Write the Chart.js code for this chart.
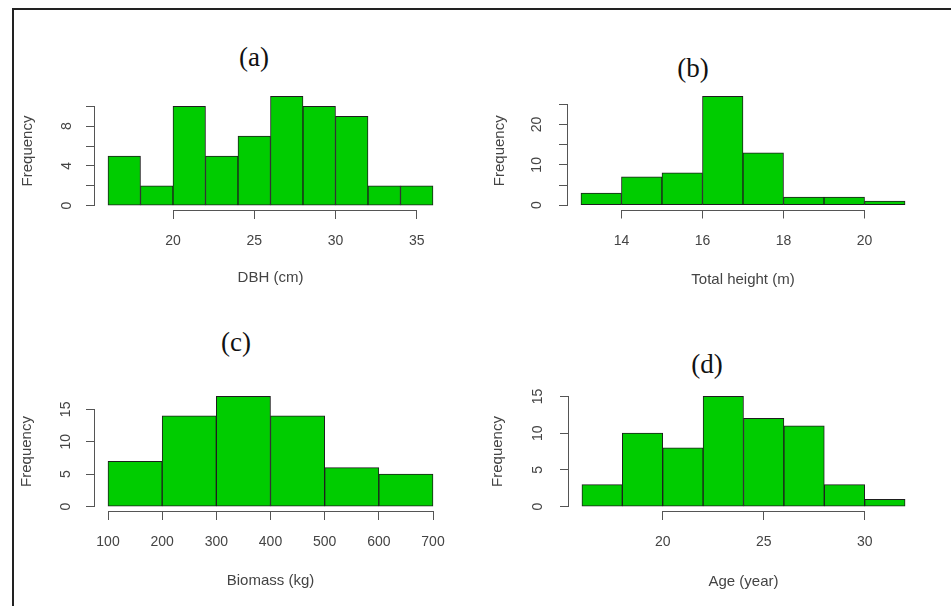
<!DOCTYPE html>
<html>
<head>
<meta charset="utf-8">
<title>Histograms</title>
<script src="https://cdn.jsdelivr.net/npm/chart.js@4.4.1/dist/chart.umd.min.js"></script>
<style>
  html, body { margin: 0; padding: 0; background: #fff; }
  #page { position: relative; width: 951px; height: 606px; overflow: hidden; }
  #frame { position: absolute; left: 12px; top: 8px; right: -4px; bottom: -4px;
           border-left: 2px solid #222; border-top: 2px solid #222; }
  canvas { position: absolute; }
  .tag { position: absolute; transform: translate(-50%, -50%);
         font-family: 'Liberation Serif', 'Times New Roman', serif; font-size: 27px; color: #111; }
</style>
</head>
<body>
<div id="page">
  <div id="frame"></div>
  <div class="tag" style="left:254px; top:57px">(a)</div>
  <div class="tag" style="left:693px; top:68px">(b)</div>
  <div class="tag" style="left:236px; top:342px">(c)</div>
  <div class="tag" style="left:707px; top:364px">(d)</div>
  <canvas id="chartA"></canvas>
  <canvas id="chartB"></canvas>
  <canvas id="chartC"></canvas>
  <canvas id="chartD"></canvas>
</div>
<script>
'use strict'

// (a) DBH
var dbhEdges = [16, 18, 20, 22, 24, 26, 28, 30, 32, 34, 36];
var dbhCounts = [5, 2, 10, 5, 7, 11, 10, 9, 2, 2];
var dbhTicks = [20, 25, 30, 35];
var dbhFreqTicks = [0, 2, 4, 6, 8, 10];
var dbhFreqLabels = [0, 4, 8];

// (b) total height
var heightEdges = [13, 14, 15, 16, 17, 18, 19, 20, 21];
var heightCounts = [3, 7, 8, 27, 13, 2, 2, 1];
var heightTicks = [14, 16, 18, 20];
var heightFreqTicks = [0, 5, 10, 15, 20, 25];
var heightFreqLabels = [0, 10, 20];

// (c) biomass
var biomassEdges = [100, 200, 300, 400, 500, 600, 700];
var biomassCounts = [7, 14, 17, 14, 6, 5];
var biomassTicks = [100, 200, 300, 400, 500, 600, 700];
var biomassFreqTicks = [0, 5, 10, 15];
var biomassFreqLabels = [0, 5, 10, 15];

// (d) age
var ageEdges = [16, 18, 20, 22, 24, 26, 28, 30, 32];
var ageCounts = [3, 10, 8, 15, 12, 11, 3, 1];
var ageTicks = [20, 25, 30];
var ageFreqTicks = [0, 5, 10, 15];
var ageFreqLabels = [0, 5, 10, 15];

var axisColor = '#555';
var textColor = '#444';
var tickFont = { family: "'Liberation Sans', Arial, sans-serif", size: 14 };
var titleFont = { family: "'Liberation Sans', Arial, sans-serif", size: 15 };

// R style axes: the line only runs from first to last tick
var axisLines = {
  id: 'axisLines',
  afterDraw: function (chart) {
    var ctx = chart.ctx, area = chart.chartArea;
    var x = chart.scales.x, y = chart.scales.y;
    var xb = Math.round(area.bottom) + 0.5, yl = Math.round(area.left) - 0.5;
    ctx.save();
    ctx.strokeStyle = axisColor;
    ctx.lineWidth = 1;
    ctx.beginPath();
    ctx.moveTo(x.getPixelForValue(x.ticks[0].value), xb);
    ctx.lineTo(x.getPixelForValue(x.ticks[x.ticks.length - 1].value), xb);
    ctx.moveTo(yl, y.getPixelForValue(y.ticks[0].value));
    ctx.lineTo(yl, y.getPixelForValue(y.ticks[y.ticks.length - 1].value));
    ctx.stroke();
    ctx.restore();
  }
};

function histogram(id, box, edges, counts, xTicks, yTicks, yLabels, xTitle) {
  var canvas = document.getElementById(id);
  var top = box.top - 30, right = box.right + 24;
  canvas.width = right - box.titleX;
  canvas.height = box.titleY - top;
  canvas.style.left = box.titleX + 'px';
  canvas.style.top = top + 'px';

  var bars = counts.map(function (c, i) {
    return { x: (edges[i] + edges[i + 1]) / 2, y: c };
  });
  // plot region runs 4% past the data, like R
  var xLo = edges[0], xHi = edges[edges.length - 1];
  var yHi = Math.max.apply(null, counts);
  var xExt = (xHi - xLo) * 0.04, yExt = yHi * 0.04;

  return new Chart(canvas, {
    type: 'bar',
    data: {
      datasets: [{
        data: bars,
        backgroundColor: '#00CC00',
        borderColor: '#1e1e1e',
        borderWidth: 1,
        borderSkipped: false,
        barPercentage: 1,
        categoryPercentage: 1
      }]
    },
    options: {
      responsive: false,
      animation: false,
      events: [],
      layout: { padding: { left: 0, top: 30, right: 24, bottom: 0 } },
      plugins: { legend: { display: false }, tooltip: { enabled: false } },
      scales: {
        x: {
          type: 'linear',
          min: xLo - xExt,
          max: xHi + xExt,
          bounds: 'data',
          offset: false,
          grid: { offset: false, drawOnChartArea: false, tickLength: 9, color: axisColor },
          border: { display: false },
          ticks: { padding: 14, color: textColor, font: tickFont, maxRotation: 0, autoSkip: false },
          title: { display: true, text: xTitle, color: textColor, font: titleFont, padding: 0 },
          afterBuildTicks: function (s) {
            s.ticks = xTicks.map(function (v) { return { value: v }; });
          },
          afterFit: function (s) { s.height = box.titleY - box.bottom; }
        },
        y: {
          min: -yExt,
          max: yHi + yExt,
          bounds: 'data',
          grid: { drawOnChartArea: false, tickLength: 9, color: axisColor },
          border: { display: false },
          ticks: {
            padding: box.yPad, color: textColor, font: tickFont, autoSkip: false,
            minRotation: 90, maxRotation: 90, crossAlign: 'center',
            callback: function (v) { return yLabels.indexOf(v) >= 0 ? String(v) : ''; }
          },
          title: { display: true, text: 'Frequency', color: textColor, font: titleFont, padding: 0 },
          afterBuildTicks: function (s) {
            s.ticks = yTicks.map(function (v) { return { value: v }; });
          },
          afterFit: function (s) { s.width = box.left - box.titleX; }
        }
      }
    },
    plugins: [axisLines]
  });
}

histogram('chartA', { left: 95, top: 92, right: 446, bottom: 210, titleX: 19, titleY: 287, yPad: 15 },
  dbhEdges, dbhCounts, dbhTicks, dbhFreqTicks, dbhFreqLabels, 'DBH (cm)');
histogram('chartB', { left: 568, top: 92, right: 918.5, bottom: 209.5, titleX: 491, titleY: 289, yPad: 14 },
  heightEdges, heightCounts, heightTicks, heightFreqTicks, heightFreqLabels, 'Total height (m)');
histogram('chartC', { left: 95, top: 392, right: 446, bottom: 511, titleX: 18, titleY: 590, yPad: 12 },
  biomassEdges, biomassCounts, biomassTicks, biomassFreqTicks, biomassFreqLabels, 'Biomass (kg)');
histogram('chartD', { left: 569, top: 392, right: 918.5, bottom: 511, titleX: 489, titleY: 591, yPad: 14 },
  ageEdges, ageCounts, ageTicks, ageFreqTicks, ageFreqLabels, 'Age (year)');
</script>
</body>
</html>
